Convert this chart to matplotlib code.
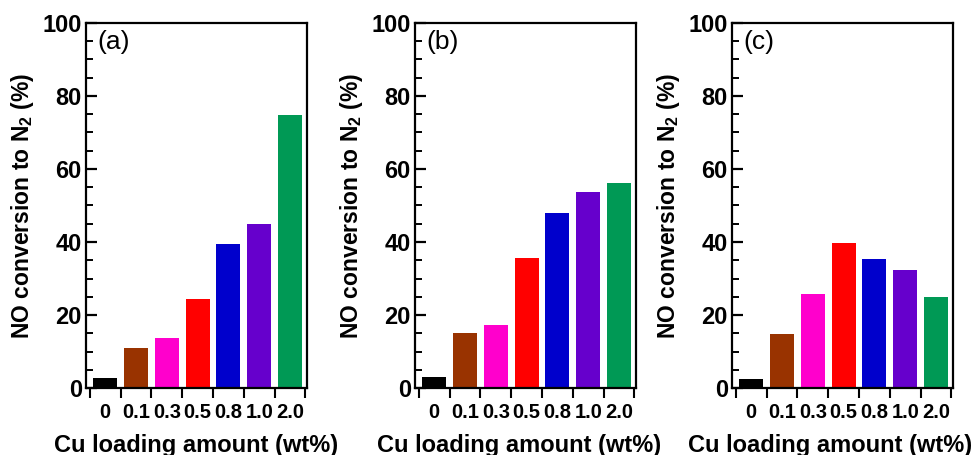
import numpy as np
import matplotlib
matplotlib.use("Agg")
import matplotlib.pyplot as plt

plt.rcParams['font.family'] = ['Liberation Sans', 'DejaVu Sans']
plt.rcParams['mathtext.fontset'] = 'custom'
plt.rcParams['mathtext.rm'] = 'Liberation Sans'
plt.rcParams['mathtext.bf'] = 'Liberation Sans:bold'

# Cu loading (wt%) and NO -> N2 conversion (%) for each condition
loading = ['0', '0.1', '0.3', '0.5', '0.8', '1.0', '2.0']
conv_a = [2.7, 11.0, 13.7, 24.5, 39.5, 45.0, 74.8]
conv_b = [3.0, 15.0, 17.3, 35.6, 48.0, 53.6, 56.2]
conv_c = [2.6, 14.7, 25.8, 39.6, 35.4, 32.2, 25.0]
panels = ['(a)', '(b)', '(c)']
colors = ['#000000', '#993300', '#FF00CC', '#FF0000', '#0000CC', '#6600CC', '#009955']

fig = plt.figure(figsize=(9.72, 4.55), dpi=100)
lefts = [86, 415, 732]
xlab_x = [0.5, 0.47, 0.445]
x = np.arange(len(loading))

for left, conv, tag, lx in zip(lefts, [conv_a, conv_b, conv_c], panels, xlab_x):
    ax = fig.add_axes([left / 972, 1 - 388 / 455, 221 / 972, 365 / 455])
    ax.bar(x, conv, width=0.78, color=colors)
    ax.set_xlim(-0.62, 6.55)
    ax.set_ylim(0, 100)
    for s in ax.spines.values():
        s.set_linewidth(1.6)

    # y axis: inward ticks, minor every 5
    ax.set_yticks(np.arange(0, 101, 20))
    ax.set_yticks(np.arange(0, 101, 5), minor=True)
    ax.tick_params(axis='y', which='major', direction='in', length=8, width=1.6,
                   labelsize=17, pad=3, right=False)
    ax.tick_params(axis='y', which='minor', direction='in', length=5, width=1.4, right=False)
    for t in ax.get_yticklabels():
        t.set_fontweight('bold')

    # x axis: labels at bar centers, tick marks at category boundaries
    ax.set_xticks(x)
    ax.set_xticklabels(loading, fontsize=14.5, fontweight='bold')
    ax.set_xticks(np.arange(-0.5, len(loading)), minor=True)
    ax.tick_params(axis='x', which='major', length=0, pad=11)
    ax.tick_params(axis='x', which='minor', direction='out', length=7.5, width=1.5, top=False)

    ax.set_ylabel(r'NO conversion to N$_\mathbf{2}$ (%)', fontsize=16.5, fontweight='bold')
    ax.yaxis.set_label_coords(-0.225, 0.5)
    ax.set_xlabel('Cu loading amount (wt%)', fontsize=17, fontweight='bold')
    ax.xaxis.set_label_coords(lx, -0.125)

    ax.text(0.05, 0.98, tag, transform=ax.transAxes, fontsize=19, va='top', ha='left')

fig.savefig('out.png', dpi=100)
